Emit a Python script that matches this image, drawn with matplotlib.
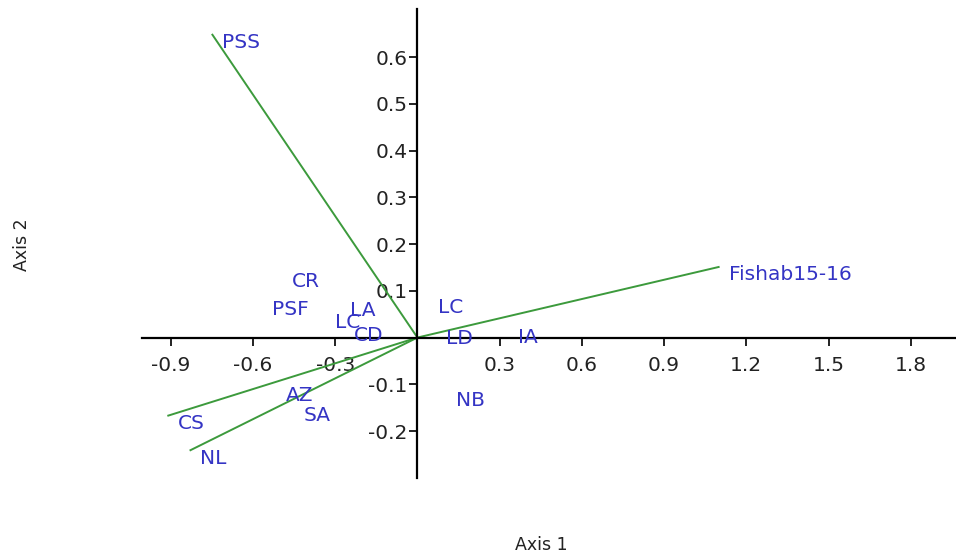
import matplotlib

matplotlib.use("Agg")
import matplotlib.pyplot as plt

# row scores (label anchors)
row_labels = ["CR", "PSF", "LA", "LC", "CD", "LC", "LD", "IA", "NB", "AZ", "SA"]
row_x = [-0.493, -0.566, -0.281, -0.336, -0.270, 0.040, 0.066, 0.332, 0.106, -0.518, -0.453]
row_y = [0.138, 0.078, 0.076, 0.050, 0.022, 0.082, 0.016, 0.018, -0.117, -0.106, -0.149]

# variable loadings (vectors from origin)
var_labels = ["PSS", "Fishab15-16", "CS", "NL"]
var_x = [-0.748, 1.099, -0.909, -0.828]
var_y = [0.648, 0.151, -0.167, -0.241]

x_ticks = [-0.9, -0.6, -0.3, 0.3, 0.6, 0.9, 1.2, 1.5, 1.8]
y_ticks = [-0.2, -0.1, 0.1, 0.2, 0.3, 0.4, 0.5, 0.6]

LINE = "#3c9a3c"
TEXT = "#3434c4"
FS = 14.5

plt.rcParams["axes.unicode_minus"] = False
plt.rcParams["font.family"] = "DejaVu Sans"

fig = plt.figure(figsize=(9.56, 5.56), dpi=100)
ax = fig.add_axes([0.1485, 0.1403, 0.8515, 0.8435])
ax.set_xlim(-1.005, 1.965)
ax.set_ylim(-0.3005, 0.703)

for s in ("top", "right"):
    ax.spines[s].set_visible(False)
ax.spines["left"].set_position(("data", 0))
ax.spines["bottom"].set_position(("data", 0))
for s in ("left", "bottom"):
    ax.spines[s].set_linewidth(1.6)

ax.set_xticks(x_ticks)
ax.set_xticklabels([f"{v:.1f}" for v in x_ticks])
ax.set_yticks(y_ticks)
ax.set_yticklabels([f"{v:.1f}" for v in y_ticks])
ax.tick_params(axis="both", length=6, width=1.4, labelsize=FS, colors="#222222")
ax.tick_params(axis="x", pad=7)
ax.tick_params(axis="y", pad=1)

for lbl, x, y in zip(var_labels, var_x, var_y):
    ax.plot([0, x], [0, y], color=LINE, lw=1.4, zorder=2)
    ax.annotate(lbl, (x, y), xytext=(10, -8), textcoords="offset pixels",
                ha="left", va="center", color=TEXT, fontsize=FS, zorder=3)

for lbl, x, y in zip(row_labels, row_x, row_y):
    ax.annotate(lbl, (x, y), xytext=(10, -8), textcoords="offset pixels",
                ha="left", va="center", color=TEXT, fontsize=FS, zorder=3)

fig.text(541 / 956, 1 - 545 / 556, "Axis 1", ha="center", va="center", fontsize=12.5, color="#222222")
fig.text(22 / 956, 1 - 245 / 556, "Axis 2", ha="center", va="center", rotation=90,
         fontsize=12.5, color="#222222")

fig.savefig("out.png", dpi=100)
